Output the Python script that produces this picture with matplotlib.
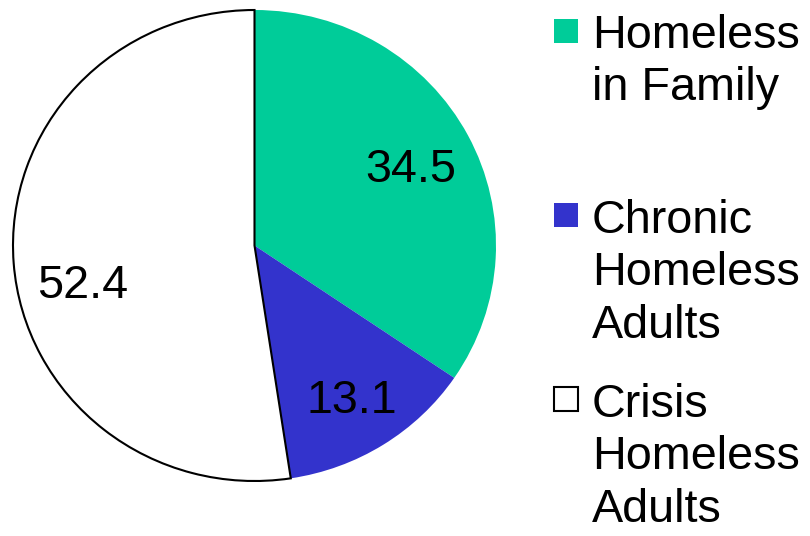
import matplotlib.pyplot as plt
from matplotlib.patches import Rectangle

plt.rcParams['font.family'] = ['Liberation Sans', 'DejaVu Sans']

categories = ['Homeless\nin Family', 'Chronic\nHomeless\nAdults', 'Crisis\nHomeless\nAdults']
values = [34.5, 13.1, 52.4]
colors = ['#00CC99', '#3333CC', '#FFFFFF']
# label anchors (data coords of the pie axes), hand placed like the original
label_pos = [(0.647, 0.270), (0.404, -0.711), (-0.710, -0.224)]

W, H = 810, 536
fig = plt.figure(figsize=(W / 100, H / 100), dpi=100)
ax = fig.add_axes([13 / W, 55 / H, 483 / W, 471 / H])

wedges, _ = ax.pie(values, colors=colors, startangle=90, counterclock=False,
                   wedgeprops=dict(linewidth=0))
# only the white slice carries an outline
wedges[2].set_edgecolor('black')
wedges[2].set_linewidth(1.5)

ax.set_aspect('auto')
ax.set_xlim(-1.0, 1.0)
ax.set_ylim(-1.0, 1.0)
ax.axis('off')

for v, (x, y) in zip(values, label_pos):
    ax.text(x, y, f'{v:.1f}', ha='center', va='baseline', fontsize=33.7, color='black')

# legend, evenly spaced entries on the right
step = 184
line_h = 53.3
for i, (lab, c) in enumerate(zip(categories, colors)):
    base = 47 + i * step
    n = lab.count('\n')
    fig.add_artist(Rectangle((554 / W, 1 - (base - 4) / H), 24 / W, 24 / H,
                             transform=fig.transFigure, facecolor=c,
                             edgecolor='black' if c == '#FFFFFF' else c,
                             linewidth=1.5 if c == '#FFFFFF' else 0))
    # baseline alignment uses the last line, so shift down by the extra lines
    fig.text(592 / W, 1 - (base + n * line_h) / H, lab, ha='left', va='baseline',
             fontsize=33.7, linespacing=1.25)

fig.savefig('out.png', dpi=100, facecolor='white')
